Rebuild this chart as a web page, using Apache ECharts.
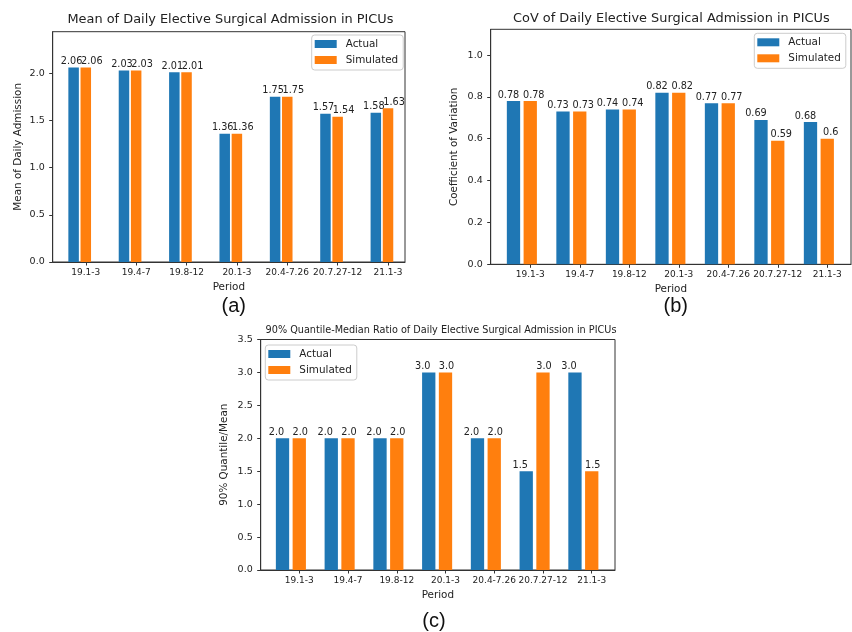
<!DOCTYPE html>
<html>
<head>
<meta charset="utf-8">
<script src="https://cdn.jsdelivr.net/npm/echarts@6/dist/echarts.min.js"></script>
<style>
html,body{margin:0;padding:0;background:#fff;}
#chart{width:852px;height:632px;}
</style>
</head>
<body>
<div id="chart"></div>
<script>
// ---- data ----
const categories = ['19.1-3', '19.4-7', '19.8-12', '20.1-3', '20.4-7.26', '20.7.27-12', '21.1-3'];
const meanActual = [2.06, 2.03, 2.01, 1.36, 1.75, 1.57, 1.58];
const meanSimulated = [2.06, 2.03, 2.01, 1.36, 1.75, 1.54, 1.63];
const covActual = [0.78, 0.73, 0.74, 0.82, 0.77, 0.69, 0.68];
const covSimulated = [0.78, 0.73, 0.74, 0.82, 0.77, 0.59, 0.6];
const ratioActual = [2.0, 2.0, 2.0, 3.0, 2.0, 1.5, 3.0];
const ratioSimulated = [2.0, 2.0, 2.0, 3.0, 2.0, 3.0, 1.5];
const meanTicks = [0, 0.5, 1.0, 1.5, 2.0];
const covTicks = [0, 0.2, 0.4, 0.6, 0.8, 1.0];
const ratioTicks = [0, 0.5, 1.0, 1.5, 2.0, 2.5, 3.0, 3.5];
const seriesNames = ['Actual', 'Simulated'];
const titles = [
  'Mean of Daily Elective Surgical Admission in PICUs',
  'CoV of Daily Elective Surgical Admission in PICUs',
  '90% Quantile-Median Ratio of Daily Elective Surgical Admission in PICUs'
];
const yNames = ['Mean of Daily Admission', 'Coefficient of Variation', '90% Quantile/Mean'];
const xName = 'Period';
const captions = ['(a)', '(b)', '(c)'];

// ---- style ----
const FONT = 'DejaVu Sans';
const BLUE = '#1f77b4';
const ORANGE = '#ff7f0e';
const INK = '#333';

const panels = [
  { frame: { left: 52.7, top: 31.7, width: 352.3, height: 230.3 },
    data: { left: 60.6, width: 352.6 }, max: 2.44, ticks: meanTicks,
    actual: meanActual, sim: meanSimulated, barWidth: 10.5, barGap: '16%',
    offA: -2, offS: 6, fmt: v => String(v), yNameGap: 29,
    legend: { left: 311.7, top: 35 },
    title: { x: 230.5, y: 19.3, size: 12.9 }, cap: { x: 233.7, y: 306 } },
  { frame: { left: 490.7, top: 29.3, width: 360.3, height: 235 },
    data: { left: 505.5, width: 350 }, max: 1.123, ticks: covTicks,
    actual: covActual, sim: covSimulated, barWidth: 13.3, barGap: '26%',
    offA: -5, offS: 3.5, fmt: v => String(v), yNameGap: 31,
    legend: { left: 754.3, top: 33.3 },
    title: { x: 671.3, y: 18.3, size: 12.9 }, cap: { x: 675.7, y: 306.5 } },
  { frame: { left: 260.7, top: 339.5, width: 354.3, height: 230.5 },
    data: { left: 274.9, width: 341.2 }, max: 3.5, ticks: ratioTicks,
    actual: ratioActual, sim: ratioSimulated, barWidth: 13.3, barGap: '26%',
    offA: -6, offS: 1, fmt: v => v.toFixed(1), yNameGap: 31,
    legend: { left: 265.3, top: 345 },
    title: { x: 441, y: 330, size: 9.7 }, cap: { x: 434, y: 621.7 } }
];

const grid = [], xAxis = [], yAxis = [], series = [], legend = [], graphic = [];

panels.forEach((p, i) => {
  const fi = i * 2, di = i * 2 + 1;
  grid.push({ left: p.frame.left, top: p.frame.top, width: p.frame.width, height: p.frame.height,
    show: true, borderColor: INK, borderWidth: 1, backgroundColor: 'transparent', containLabel: false });
  grid.push({ left: p.data.left, top: p.frame.top, width: p.data.width, height: p.frame.height,
    show: false, containLabel: false });

  // frame axes
  xAxis.push({ type: 'category', gridIndex: fi, data: categories,
    axisLine: { show: true, lineStyle: { color: INK, width: 1 } },
    axisTick: { show: false }, axisLabel: { show: false }, splitLine: { show: false },
    name: xName, nameLocation: 'middle', nameGap: 20,
    nameTextStyle: { fontFamily: FONT, fontSize: 10.4, color: '#222' } });
  yAxis.push({ type: 'value', gridIndex: fi, min: 0, max: p.max,
    axisLine: { show: true, lineStyle: { color: INK, width: 1 } },
    axisTick: { show: true, length: 3.5, customValues: p.ticks, lineStyle: { color: INK } },
    axisLabel: { customValues: p.ticks, formatter: v => v.toFixed(1), margin: 8,
      fontFamily: FONT, fontSize: 9.5, color: '#222' },
    splitLine: { show: false },
    name: yNames[i], nameLocation: 'middle', nameGap: p.yNameGap, nameRotate: 90,
    nameTextStyle: { fontFamily: FONT, fontSize: 10.4, color: '#222' } });

  // data axes
  xAxis.push({ type: 'category', gridIndex: di, data: categories,
    axisLine: { show: false },
    axisTick: { show: true, alignWithLabel: true, length: 3.5, lineStyle: { color: INK } },
    axisLabel: { interval: 0, margin: 6, fontFamily: FONT, fontSize: 9, color: '#222' },
    splitLine: { show: false } });
  yAxis.push({ type: 'value', gridIndex: di, min: 0, max: p.max, show: false, splitLine: { show: false } });

  const mk = (name, data, color, off) => ({
    type: 'bar', name: name, xAxisIndex: di, yAxisIndex: di, data: data,
    barWidth: p.barWidth, barGap: p.barGap,
    itemStyle: { color: color },
    label: { show: true, position: 'top', distance: 1, offset: [off, 0],
      formatter: q => p.fmt(q.value), fontFamily: FONT, fontSize: 9.7, color: '#222' },
    emphasis: { disabled: true }, animation: false
  });
  series.push(mk(seriesNames[0], p.actual, BLUE, p.offA));
  series.push(mk(seriesNames[1], p.sim, ORANGE, p.offS));
  // spacer column so that tick sits under the Simulated bar (as in the source figure)
  series.push({ type: 'bar', name: '', xAxisIndex: di, yAxisIndex: di,
    data: categories.map(() => null), barWidth: p.barWidth, barGap: p.barGap,
    silent: true, animation: false });

  legend.push({ data: seriesNames, left: p.legend.left, top: p.legend.top, orient: 'vertical',
    icon: 'rect', itemWidth: 22, itemHeight: 8, itemGap: 6, padding: [4, 5, 5, 3],
    borderColor: '#ccc', borderWidth: 1, borderRadius: 3, backgroundColor: 'rgba(255,255,255,0.8)',
    selectedMode: false,
    textStyle: { fontFamily: FONT, fontSize: 10.4, color: '#222', padding: [0, 0, 0, 4] } });

  graphic.push({ type: 'text', x: p.title.x, y: p.title.y, silent: true,
    style: { text: titles[i], align: 'center', verticalAlign: 'middle',
      textAlign: 'center', textVerticalAlign: 'middle',
      font: p.title.size + 'px "' + FONT + '"', fill: '#222' } });
  graphic.push({ type: 'text', x: p.cap.x, y: p.cap.y, silent: true,
    style: { text: captions[i], align: 'center', verticalAlign: 'middle',
      textAlign: 'center', textVerticalAlign: 'middle',
      font: '20px "Liberation Sans"', fill: '#111' } });
});

const chart = echarts.init(document.getElementById('chart'), null, { renderer: 'canvas' });
chart.setOption({
  animation: false,
  backgroundColor: '#fff',
  grid: grid, xAxis: xAxis, yAxis: yAxis, series: series, legend: legend, graphic: graphic
});
</script>
</body>
</html>
